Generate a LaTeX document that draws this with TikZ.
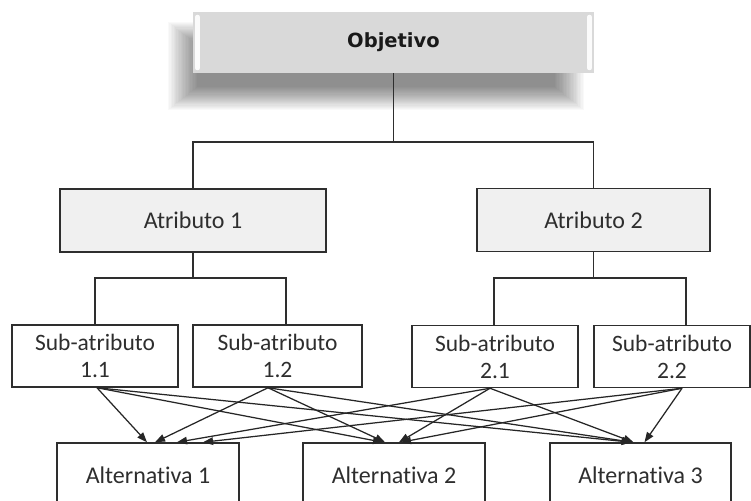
\documentclass[tikz,border=0pt]{standalone}
\usepackage{fontspec}
\setmainfont{Carlito}[Ligatures=NoCommon]
\newfontfamily\objfont{DejaVu Sans}
\usetikzlibrary{arrows.meta}
\definecolor{boxline}{HTML}{2E2E2E}
\definecolor{txt}{HTML}{2E2E2E}
\definecolor{objfill}{HTML}{D9D9D9}
\definecolor{attrfill}{HTML}{F0F0F0}
\tikzset{
  objbox/.style={fill=objfill, minimum width=401pt, minimum height=61pt, inner sep=0pt,
    font=\objfont\bfseries\fontsize{19.5}{23}\selectfont, text=black!90},
  attrbox/.style={draw=boxline, line width=1.5pt, fill=attrfill, minimum height=63pt, inner sep=0pt,
    font=\fontsize{24}{28}\selectfont, text=txt},
  subbox/.style={draw=boxline, line width=1.5pt, fill=white, minimum height=62pt, inner sep=0pt,
    align=center, font=\fontsize{23.5}{27}\selectfont, text=txt},
  altbox/.style={draw=boxline, line width=1.5pt, fill=white, minimum height=64pt, inner sep=0pt,
    font=\fontsize{24}{28}\selectfont, text=txt},
  conn/.style={draw=boxline, line width=1.5pt},
  arr/.style={draw=black!85, line width=1.25pt, -{Triangle[length=10pt,width=7.5pt]}}
}
\begin{document}
\begin{tikzpicture}[x=1pt,y=-1pt]
\useasboundingbox (0,0) rectangle (751,500);
\fill[white] (0,0) rectangle (751,500);
\clip (0,0) rectangle (751,500);

% soft shadow of Objetivo
\foreach \i in {0,...,21}{
  \fill[black, opacity=0.024] (168+\i*1.4,22+\i*1.1) rectangle (584-\i*1.4,110-\i*1.1);
}
% Objetivo
\node[objbox] (obj) at (393.5,42.5) {Objetivo};
\draw[white, line width=4.5pt, line cap=round, opacity=0.9] (197.5,17) -- (197.5,68);
\draw[white, line width=4.5pt, line cap=round, opacity=0.9] (589.5,17) -- (589.5,68);

% Atributos
\node[attrbox, minimum width=266pt] (a1) at (193,220.5) {Atributo 1};
\node[attrbox, minimum width=233pt] (a2) at (593.5,220) {Atributo 2};

% Sub-atributos
\node[subbox, minimum width=166pt] (s11) at (95,356) {Sub-atributo\\1.1};
\node[subbox, minimum width=169pt] (s12) at (277.5,356) {Sub-atributo\\1.2};
\node[subbox, minimum width=166pt] (s21) at (495,356.5) {Sub-atributo\\2.1};
\node[subbox, minimum width=156pt] (s22) at (672,356.5) {Sub-atributo\\2.2};

% Alternativas
\node[altbox, minimum width=182pt] (al1) at (148,475) {Alternativa 1};
\node[altbox, minimum width=182pt] (al2) at (394,475) {Alternativa 2};
\node[altbox, minimum width=181pt] (al3) at (640.5,475) {Alternativa 3};

% tree connectors
\coordinate (j0) at (393.5,142);
\coordinate (j1) at (193,278);
\coordinate (j2) at (593.5,278);
\draw[conn] (obj.south) -- (j0);
\draw[conn] (a1.north) |- (j0) -| (a2.north);
\draw[conn] (a1.south) -- (j1);
\draw[conn] (s11.north) |- (j1) -| ([xshift=8.5pt]s12.north);
\draw[conn] (a2.south) -- (j2);
\draw[conn] ([xshift=-1pt]s21.north) |- (j2) -| ([xshift=14pt]s22.north);

% arrows
\draw[arr] ([xshift=2pt]s11.south) -- ([xshift=-1pt]al1.north);
\draw[arr] ([xshift=2pt]s11.south) -- ([xshift=-11pt]al2.north);
\draw[arr] ([xshift=2pt]s11.south) -- ([xshift=-9pt]al3.north);
\draw[arr] ([xshift=-9.5pt]s12.south) -- ([xshift=7pt]al1.north);
\draw[arr] ([xshift=-9.5pt]s12.south) -- ([xshift=-9pt]al2.north);
\draw[arr] ([xshift=-9.5pt]s12.south) -- ([xshift=-8pt]al3.north);
\draw[arr] ([xshift=-5pt]s21.south) -- ([xshift=29pt]al1.north);
\draw[arr] ([xshift=-5pt]s21.south) -- ([xshift=5pt]al2.north);
\draw[arr] ([xshift=-5pt]s21.south) -- ([xshift=-7pt]al3.north);
\draw[arr] ([xshift=10pt]s22.south) -- ([xshift=55pt]al1.north);
\draw[arr] ([xshift=10pt]s22.south) -- ([xshift=7pt]al2.north);
\draw[arr] ([xshift=10pt]s22.south) -- ([xshift=4pt]al3.north);
\end{tikzpicture}
\end{document}
